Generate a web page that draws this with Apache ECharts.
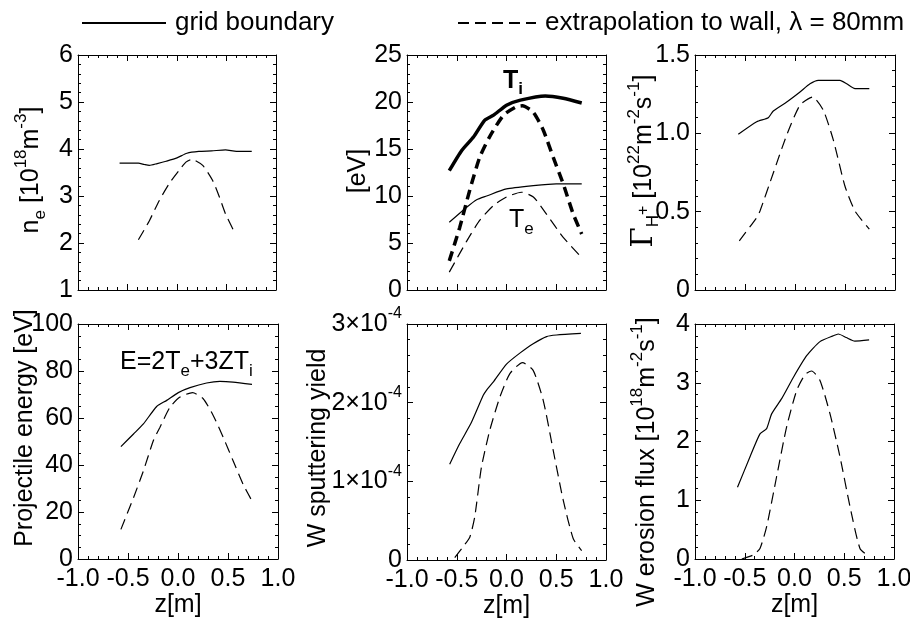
<!DOCTYPE html>
<html>
  <head>
    <meta charset="UTF-8" />
    <title>Profiles along z</title>
    <script src="https://cdn.jsdelivr.net/npm/echarts@6/dist/echarts.min.js"></script>
  </head>
  <body style="margin: 0; background-color: #fff">
    <div id="main" style="width: 910px; height: 619px"></div>
    <script type="text/javascript">
      // values, [z (m), value]
      var neGrid = [[-0.58, 3.70], [-0.39, 3.70], [-0.33, 3.67], [-0.28, 3.65], [-0.2, 3.69], [-0.11, 3.74], [0.0, 3.81], [0.1, 3.91], [0.22, 3.95], [0.35, 3.96], [0.49, 3.98], [0.6, 3.95], [0.755, 3.95]];
      var neWall = [[-0.39, 2.07], [-0.28, 2.47], [-0.18, 2.90], [-0.08, 3.26], [0.02, 3.54], [0.09, 3.72], [0.15, 3.78], [0.26, 3.65], [0.36, 3.33], [0.43, 2.97], [0.49, 2.62], [0.59, 2.19]];

      var tiGrid = [[-0.575, 12.7], [-0.45, 14.85], [-0.33, 16.3], [-0.22, 18.05], [-0.13, 18.6], [0.0, 19.66], [0.14, 20.2], [0.39, 20.65], [0.57, 20.4], [0.756, 19.9]];
      var tiWall = [[-0.575, 3.1], [-0.47, 6.66], [-0.37, 10.6], [-0.27, 14.1], [-0.17, 16.3], [-0.03, 18.6], [0.10, 19.5], [0.16, 19.6], [0.27, 18.9], [0.37, 17.0], [0.47, 14.1], [0.57, 11.3], [0.67, 8.1], [0.756, 5.95]];
      var teGrid = [[-0.575, 7.2], [-0.4, 8.8], [-0.3, 9.6], [-0.2, 10.0], [0.0, 10.75], [0.27, 11.1], [0.5, 11.3], [0.756, 11.3]];
      var teWall = [[-0.575, 1.9], [-0.4, 5.2], [-0.27, 7.4], [-0.13, 9.0], [0.0, 9.9], [0.15, 10.4], [0.27, 9.9], [0.4, 8.1], [0.57, 5.6], [0.756, 3.45]];

      var fluxGrid = [[-0.567, 0.994], [-0.383, 1.074], [-0.267, 1.10], [-0.217, 1.143], [-0.083, 1.20], [0.05, 1.264], [0.15, 1.316], [0.233, 1.338], [0.45, 1.338], [0.517, 1.316], [0.6, 1.285], [0.743, 1.285]];
      var fluxWall = [[-0.557, 0.314], [-0.383, 0.462], [-0.35, 0.504], [-0.217, 0.747], [-0.083, 0.989], [0.05, 1.18], [0.177, 1.232], [0.283, 1.148], [0.383, 0.958], [0.5, 0.662], [0.6, 0.504], [0.743, 0.388]];

      var energyGrid = [[-0.571, 47.8], [-0.445, 53.2], [-0.346, 57.5], [-0.213, 64.9], [-0.113, 67.5], [0.003, 70.8], [0.12, 72.9], [0.286, 74.9], [0.419, 75.6], [0.55, 75.3], [0.74, 74.3]];
      var energyWall = [[-0.571, 12.6], [-0.445, 26.1], [-0.346, 37.5], [-0.246, 50.4], [-0.18, 56.1], [-0.08, 64.6], [0.02, 68.9], [0.146, 70.8], [0.252, 68.2], [0.352, 61.1], [0.452, 51.8], [0.551, 41.8], [0.651, 31.8], [0.74, 24.7]];

      // sputtering yield in units of 1e-4
      var yieldGrid = [[-0.571, 1.217], [-0.47, 1.48], [-0.352, 1.75], [-0.235, 2.09], [-0.2, 2.16], [-0.134, 2.26], [0.0, 2.49], [0.134, 2.63], [0.268, 2.75], [0.403, 2.84], [0.503, 2.86], [0.748, 2.88]];
      var yieldWall = [[-0.52, 0.03], [-0.436, 0.17], [-0.369, 0.29], [-0.319, 0.55], [-0.252, 1.18], [-0.168, 1.65], [-0.067, 2.07], [0.034, 2.37], [0.161, 2.51], [0.268, 2.41], [0.369, 2.03], [0.47, 1.39], [0.57, 0.76], [0.671, 0.27], [0.755, 0.12]];

      var erosionGrid = [[-0.573, 1.22], [-0.447, 1.74], [-0.347, 2.13], [-0.28, 2.22], [-0.23, 2.47], [-0.129, 2.73], [-0.012, 3.09], [0.122, 3.46], [0.256, 3.70], [0.39, 3.80], [0.44, 3.83], [0.52, 3.77], [0.606, 3.71], [0.75, 3.73]];
      var erosionWall = [[-0.53, 0.0], [-0.413, 0.07], [-0.347, 0.18], [-0.28, 0.55], [-0.18, 1.40], [-0.079, 2.25], [0.022, 2.87], [0.106, 3.14], [0.172, 3.20], [0.256, 3.04], [0.357, 2.47], [0.457, 1.74], [0.558, 0.89], [0.658, 0.18], [0.75, 0.04]];

      var zTicks = [-1.0, -0.5, 0.0, 0.5, 1.0];
      var yRanges = [[1, 6, 1], [0, 25, 5], [0, 1.5, 0.5], [0, 100, 20], [0, 3, 1], [0, 4, 1]];

      var GRID_NAME = "grid boundary";
      var WALL_NAME = "extrapolation to wall, \u03bb = 80mm";
      var FONT = "Liberation Sans, Arial, Helvetica, sans-serif";

      var rich = {
        n: { fontSize: 25, lineHeight: 36, fontFamily: FONT, color: "#000" },
        g: { fontSize: 29, lineHeight: 36, fontFamily: "DejaVu Serif, serif", color: "#000" },
        sup: { fontSize: 17, verticalAlign: "top", fontFamily: FONT, color: "#000" },
        sub: { fontSize: 17, verticalAlign: "bottom", fontFamily: FONT, color: "#000" },
        mid: { fontSize: 16, fontFamily: FONT, color: "#000" },
        bn: { fontSize: 25, lineHeight: 34, fontWeight: "bold", fontFamily: FONT, color: "#000" },
        bsub: { fontSize: 17, verticalAlign: "bottom", fontWeight: "bold", fontFamily: FONT, color: "#000" },
        t: { fontSize: 25, lineHeight: 36, fontFamily: FONT, color: "#000" },
        ts: { fontSize: 16, verticalAlign: "top", fontFamily: FONT, color: "#000" },
      };

      var grids = [
        { left: 78, top: 55, width: 198, height: 235 },
        { left: 407, top: 55, width: 199, height: 235 },
        { left: 695, top: 55, width: 200, height: 235 },
        { left: 78, top: 324, width: 200, height: 235 },
        { left: 407, top: 324, width: 199, height: 236 },
        { left: 695, top: 324, width: 199, height: 235 },
      ];
      grids.forEach(function (g) {
        g.outerBoundsMode = "none";
      });

      var black = { color: "#000", width: 1 };

      function xAxisFor(i, pos) {
        var labels = pos === "bottom" && i >= 3;
        return {
          type: "value",
          gridIndex: i,
          position: pos,
          min: zTicks[0],
          max: zTicks[zTicks.length - 1],
          interval: 0.5,
          axisLine: { show: true, onZero: false, lineStyle: black },
          axisTick: { show: true, inside: true, length: 6, lineStyle: black },
          minorTick: { show: true, splitNumber: 5, length: 3, lineStyle: black },
          splitLine: { show: false },
          minorSplitLine: { show: false },
          axisLabel: {
            show: labels,
            margin: 8,
            color: "#000",
            fontSize: 25,
            fontFamily: FONT,
            showMinLabel: true,
            showMaxLabel: true,
            formatter: function (v) {
              return v.toFixed(1);
            },
          },
          name: labels ? "z[m]" : "",
          nameLocation: "middle",
          nameGap: 28,
          nameTextStyle: { color: "#000", fontSize: 25, fontFamily: FONT },
        };
      }

      var yFormat = [
        function (v) { return String(v); },
        function (v) { return String(v); },
        function (v) { return v === 0 ? "0" : v.toFixed(1); },
        function (v) { return String(v); },
        function (v) { return v === 0 ? "{t|0}" : "{t|" + Math.round(v) + "\u00d710}{ts|-4}"; },
        function (v) { return String(v); },
      ];
      var yMinor = [5, 5, 5, 4, 5, 5];

      function yAxisFor(i, pos) {
        var r = yRanges[i];
        return {
          type: "value",
          gridIndex: i,
          position: pos,
          min: r[0],
          max: r[1],
          interval: r[2],
          axisLine: { show: true, onZero: false, lineStyle: black },
          axisTick: { show: true, inside: true, length: 6, lineStyle: black },
          minorTick: { show: true, splitNumber: yMinor[i], length: 3, lineStyle: black },
          splitLine: { show: false },
          minorSplitLine: { show: false },
          axisLabel: {
            show: pos === "left",
            margin: 5,
            color: "#000",
            fontSize: 25,
            fontFamily: FONT,
            showMinLabel: true,
            showMaxLabel: true,
            formatter: yFormat[i],
            rich: rich,
          },
        };
      }

      var xAxes = [], yAxes = [];
      for (var i = 0; i < 6; i++) xAxes.push(xAxisFor(i, "bottom"));
      for (var i = 0; i < 6; i++) xAxes.push(xAxisFor(i, "top"));
      for (var i = 0; i < 6; i++) yAxes.push(yAxisFor(i, "left"));
      for (var i = 0; i < 6; i++) yAxes.push(yAxisFor(i, "right"));

      function line(name, data, idx, dashed, width) {
        return {
          name: name,
          type: "line",
          xAxisIndex: idx,
          yAxisIndex: idx,
          data: data,
          symbol: "none",
          smooth: 0.2,
          silent: true,
          lineStyle: {
            color: "#000",
            width: width || 1.2,
            type: dashed ? (width > 2 ? [10, 6] : [11, 6]) : "solid",
          },
        };
      }

      var series = [
        line(GRID_NAME, neGrid, 0, false),
        line(WALL_NAME, neWall, 0, true),
        line(GRID_NAME, tiGrid, 1, false, 3.5),
        line(WALL_NAME, tiWall, 1, true, 3.5),
        line(GRID_NAME, teGrid, 1, false),
        line(WALL_NAME, teWall, 1, true),
        line(GRID_NAME, fluxGrid, 2, false),
        line(WALL_NAME, fluxWall, 2, true),
        line(GRID_NAME, energyGrid, 3, false),
        line(WALL_NAME, energyWall, 3, true),
        line(GRID_NAME, yieldGrid, 4, false),
        line(WALL_NAME, yieldWall, 4, true),
        line(GRID_NAME, erosionGrid, 5, false),
        line(WALL_NAME, erosionWall, 5, true),
      ];

      // rotated y titles and in-plot annotations
      function label(x, y, text, rotate, align) {
        return {
          type: "text",
          x: x,
          y: y,
          rotation: rotate ? Math.PI / 2 : 0,
          silent: true,
          style: {
            text: text,
            rich: rich,
            fill: "#000",
            align: align || "center",
            textAlign: align || "center",
            verticalAlign: "middle",
            textVerticalAlign: "middle",
          },
        };
      }

      var graphics = [
        label(31, 170, "{n|n}{sub|e}{n| [10}{sup|18}{n|m}{sup|-3}{n|]}", true),
        label(358, 171, "{n|[eV]}", true),
        label(644, 161, "{g|\u0393}{sub|H}{mid|+}{n| [10}{sup|22}{n|m}{sup|-2}{n|s}{sup|-1}{n|]}", true),
        label(25, 428, "{n|Projectile energy [eV]}", true),
        label(318, 448, "{n|W sputtering yield}", true),
        label(647, 462, "{n|W erosion flux [10}{sup|18}{n|m}{sup|-2}{n|s}{sup|-1}{n|]}", true),
        label(503, 81, "{bn|T}{bsub|i}", false, "left"),
        label(509, 220, "{n|T}{sub|e}", false, "left"),
        label(120, 362, "{n|E=2T}{sub|e}{n|+3ZT}{sub|i}", false, "left"),
      ];

      var legendText = { color: "#000", fontSize: 26, fontFamily: FONT, padding: [0, 0, 0, 4] };

      var myChart = echarts.init(document.getElementById("main"), null, { renderer: "canvas" });
      var option = {
        backgroundColor: "#fff",
        animation: false,
        legend: [
          {
            data: [GRID_NAME],
            left: 76,
            top: 5,
            itemWidth: 84,
            itemHeight: 14,
            selectedMode: false,
            itemStyle: { opacity: 0 },
            textStyle: legendText,
          },
          {
            data: [WALL_NAME],
            left: 452,
            top: 5,
            itemWidth: 78,
            itemHeight: 14,
            selectedMode: false,
            itemStyle: { opacity: 0 },
            textStyle: legendText,
          },
        ],
        grid: grids,
        xAxis: xAxes,
        yAxis: yAxes,
        series: series,
        graphic: graphics,
      };
      myChart.setOption(option);
    </script>
  </body>
</html>
